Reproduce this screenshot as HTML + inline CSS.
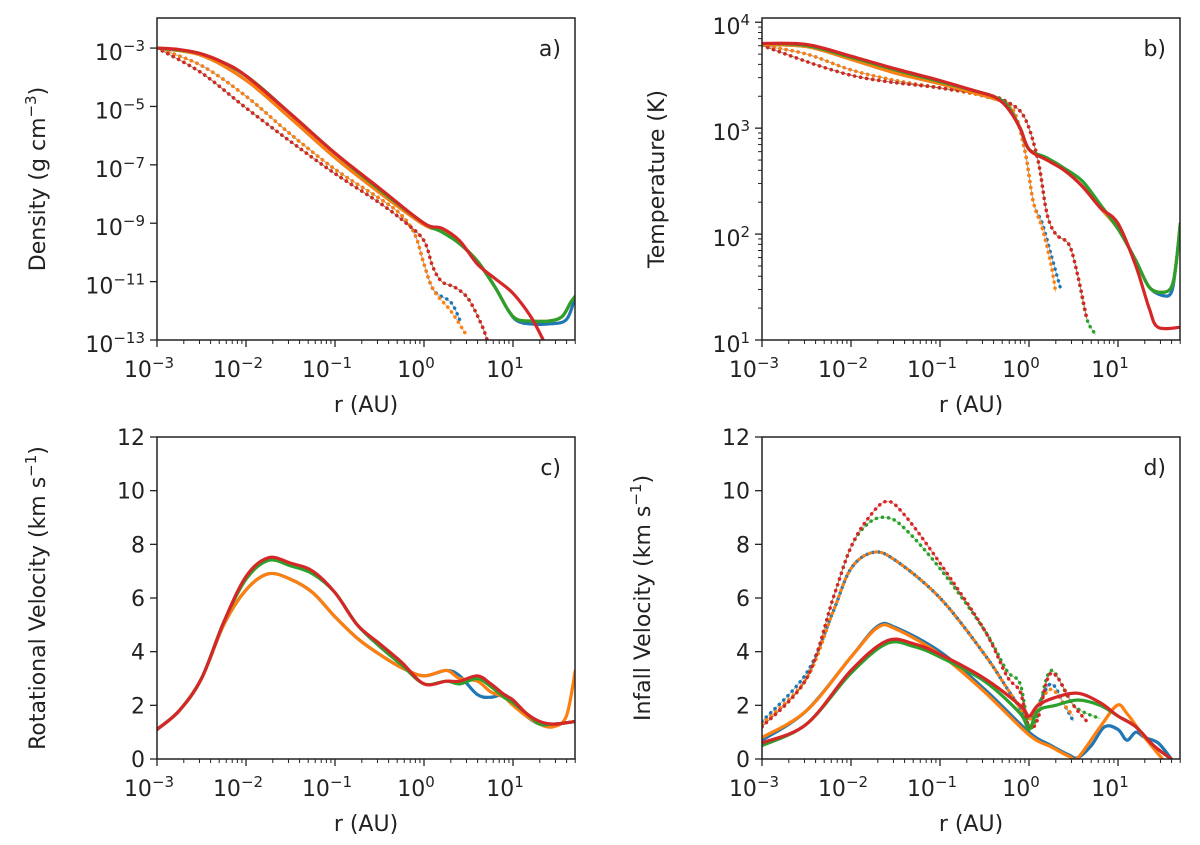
<!DOCTYPE html>
<html><head><meta charset="utf-8"><style>
body{margin:0;background:#fff}
svg{display:block;font-family:"DejaVu Sans","Liberation Sans",sans-serif}
</style></head><body>
<svg id="fig" width="1200" height="845" viewBox="0 0 1200 845"></svg>
<script>
const colors=['#1f77b4','#ff7f0e','#2ca02c','#d62728'];
// Panel a: density (log10 rho) vs log10 r
const aSolidX=[[-3,-2.5,-2,-1.5,-1,-0.5,0,0.2,0.4,0.6,0.8,0.95,1.05,1.2,1.4,1.6,1.7],[-3,-2.5,-2,-1.5,-1,-0.5,0,0.2,0.4,0.6,0.8,0.95,1.05,1.2,1.4,1.55,1.65,1.7],[-3,-2.5,-2,-1.5,-1,-0.5,0,0.2,0.4,0.6,0.8,0.95,1.05,1.2,1.4,1.55,1.65,1.7],[-3,-2.75,-2.5,-2.25,-2,-1.5,-1,-0.5,0,0.2,0.4,0.6,0.8,1.0,1.2,1.34]];
const aSolidY=[[-3,-3.25,-4.1,-5.4,-6.75,-7.95,-9.05,-9.25,-9.7,-10.3,-11.2,-12.0,-12.35,-12.45,-12.45,-12.3,-11.5],[-3,-3.25,-4.1,-5.4,-6.75,-7.95,-9.05,-9.25,-9.7,-10.3,-11.2,-12.0,-12.3,-12.35,-12.35,-12.2,-11.7,-11.5],[-3,-3.2,-3.95,-5.25,-6.6,-7.85,-9.0,-9.3,-9.7,-10.3,-11.2,-12.0,-12.3,-12.35,-12.35,-12.2,-11.7,-11.5],[-3,-3.05,-3.2,-3.5,-3.95,-5.25,-6.6,-7.8,-9.0,-9.17,-9.6,-10.4,-10.9,-11.4,-12.2,-13.0]];
const aDotX=[[-3,-2.5,-2,-1.5,-1,-0.5,-0.26,-0.1,0,0.11,0.3,0.4],[-3,-2.5,-2,-1.5,-1,-0.5,-0.26,-0.1,0,0.11,0.3,0.47],[-3,-2.5,-2,-1.5,-1,-0.5,-0.2,0,0.1,0.2,0.35,0.5,0.65,0.72],[-3,-2.5,-2,-1.5,-1,-0.5,-0.2,0,0.1,0.2,0.35,0.5,0.65,0.72]];
const aDotY=[[-3,-3.6,-4.65,-5.95,-7.15,-8.15,-8.7,-9.4,-10.4,-11.3,-11.7,-12.3],[-3,-3.6,-4.65,-5.95,-7.15,-8.15,-8.7,-9.4,-10.4,-11.3,-12.0,-12.8],[-3,-3.85,-5.05,-6.2,-7.3,-8.3,-9.0,-9.6,-10.5,-11.0,-11.2,-11.6,-12.5,-13.1],[-3,-3.85,-5.05,-6.2,-7.3,-8.3,-9.0,-9.6,-10.5,-11.0,-11.2,-11.6,-12.5,-13.1]];
// Panel b: temperature (log10 T)
const bSolidX=[[-3,-2.5,-2,-1.5,-1,-0.6,-0.4,-0.25,-0.1,0,0.2,0.4,0.6,0.8,1.0,1.2,1.35,1.5,1.6,1.65,1.7],[-3,-2.5,-2,-1.5,-1,-0.6,-0.4,-0.25,-0.1,0,0.2,0.4,0.6,0.8,1.0,1.2,1.35,1.5,1.6,1.65,1.7],[-3,-2.5,-2,-1.5,-1,-0.6,-0.4,-0.25,-0.1,0,0.2,0.4,0.6,0.8,1.0,1.2,1.35,1.5,1.6,1.65,1.7],[-3,-2.5,-2,-1.5,-1,-0.6,-0.4,-0.25,-0.1,0,0.2,0.4,0.6,0.8,1.0,1.2,1.35,1.45,1.7]];
const bSolidY=[[3.79,3.77,3.65,3.52,3.42,3.33,3.28,3.22,3.0,2.8,2.7,2.6,2.45,2.25,2.05,1.75,1.5,1.42,1.45,1.7,2.1],[3.79,3.77,3.65,3.52,3.42,3.33,3.28,3.22,3.0,2.8,2.7,2.6,2.45,2.25,2.05,1.75,1.5,1.45,1.5,1.7,2.1],[3.8,3.78,3.67,3.55,3.44,3.35,3.3,3.22,3.0,2.8,2.72,2.62,2.5,2.28,2.05,1.75,1.5,1.45,1.5,1.7,2.1],[3.8,3.79,3.68,3.56,3.45,3.35,3.3,3.2,3.0,2.8,2.7,2.6,2.45,2.25,2.1,1.7,1.3,1.12,1.12]];
const bDotX=[[-3,-2.5,-2,-1.5,-1,-0.5,-0.2,-0.05,0.05,0.15,0.25,0.35],[-3,-2.5,-2,-1.5,-1,-0.5,-0.2,-0.05,0.05,0.15,0.25,0.3],[-3,-2,-1,-0.5,-0.25,-0.05,0.1,0.2,0.3,0.45,0.55,0.65,0.75],[-3,-2,-1,-0.5,-0.25,-0.05,0.1,0.2,0.3,0.45,0.55,0.65]];
const bDotY=[[3.78,3.7,3.55,3.45,3.38,3.3,3.2,2.8,2.3,2.1,1.8,1.5],[3.78,3.7,3.55,3.45,3.38,3.3,3.2,2.8,2.3,2.05,1.7,1.45],[3.78,3.5,3.38,3.32,3.25,3.1,2.7,2.2,2.0,1.9,1.6,1.2,1.05],[3.78,3.5,3.38,3.32,3.25,3.1,2.7,2.2,2.0,1.9,1.6,1.2]];
// Panel c: rotational velocity (km/s)
const cX=[-3,-2.75,-2.5,-2.25,-2,-1.75,-1.5,-1.25,-1,-0.75,-0.5,-0.25,0,0.25,0.4,0.6,0.75,0.9,1.0,1.15,1.3,1.45,1.6,1.7];
const cY=[[1.1,1.8,3.0,5.0,6.3,6.9,6.7,6.2,5.3,4.5,3.9,3.4,3.1,3.3,3.1,2.4,2.3,2.4,2.1,1.6,1.3,1.3,1.35,1.4],[1.1,1.8,3.0,5.0,6.3,6.9,6.7,6.2,5.3,4.5,3.9,3.4,3.1,3.3,3.0,2.9,2.5,2.3,2.0,1.6,1.3,1.2,1.6,3.3],[1.1,1.8,3.0,5.1,6.7,7.4,7.2,6.9,6.2,5.0,4.2,3.5,2.8,2.9,2.8,3.0,2.7,2.3,2.1,1.7,1.3,1.3,1.35,1.4],[1.1,1.8,3.0,5.1,6.8,7.5,7.3,7.0,6.2,5.0,4.3,3.6,2.8,2.9,2.9,3.1,2.8,2.4,2.2,1.7,1.4,1.3,1.35,1.4]];
// Panel d: infall velocity (km/s)
const dSolidX=[[-3,-2.5,-2,-1.7,-1.5,-1,-0.5,0,0.25,0.45,0.55,0.7,0.85,1.0,1.1,1.2,1.3,1.45,1.6],[-3,-2.5,-2,-1.7,-1.5,-1,-0.5,0,0.25,0.45,0.55,0.8,0.99,1.1,1.3,1.5],[-3,-2.5,-2,-1.6,-1.3,-1,-0.5,-0.1,0,0.1,0.3,0.55,0.8,1.0,1.2,1.4,1.6],[-3,-2.5,-2,-1.6,-1.3,-1,-0.5,-0.1,0,0.1,0.3,0.55,0.8,1.0,1.2,1.4,1.6]];
const dSolidY=[[0.7,1.8,3.8,4.95,4.9,4.0,2.6,1.0,0.5,0.15,0.05,0.5,1.2,1.1,0.7,1.0,0.8,0.6,0.0],[0.8,1.8,3.8,4.9,4.85,3.9,2.5,0.9,0.45,0.1,0.05,1.2,2.0,1.7,0.8,0.0],[0.5,1.3,3.2,4.3,4.2,3.8,2.9,1.7,1.1,1.8,2.0,2.2,2.0,1.6,1.2,0.5,0.0],[0.6,1.3,3.3,4.4,4.3,3.9,3.0,2.0,1.6,2.0,2.3,2.45,2.1,1.6,1.2,0.5,0.0]];
const dDotX=[[-3,-2.5,-2.2,-2,-1.75,-1.5,-1,-0.5,-0.2,0,0.1,0.25,0.4,0.5],[-3,-2.5,-2.2,-2,-1.75,-1.5,-1,-0.5,-0.2,0,0.1,0.25,0.4,0.5],[-3,-2.5,-2.2,-2,-1.8,-1.6,-1.4,-1,-0.5,-0.25,-0.1,0,0.1,0.25,0.5,0.8],[-3,-2.5,-2.2,-2,-1.8,-1.6,-1.4,-1,-0.5,-0.25,-0.1,0,0.1,0.25,0.5,0.65]];
const dDotY=[[1.4,3.2,5.5,7.1,7.7,7.4,6.0,3.9,2.4,1.5,2.0,2.8,2.0,1.4],[1.3,3.0,5.5,7.1,7.7,7.4,6.0,3.9,2.4,1.5,2.0,2.6,2.0,1.6],[1.2,3.0,6.0,7.9,8.8,9.0,8.6,7.1,4.8,3.3,2.8,1.2,1.7,3.3,2.0,1.5],[1.2,3.0,6.0,7.9,9.0,9.6,9.1,7.3,4.8,3.1,2.5,1.2,1.5,3.2,2.0,1.4]];
const yTicksLog_a=[-3,-5,-7,-9,-11,-13];
const yTicksLog_b=[1,2,3,4];
const yTicksLin=[0,2,4,6,8,10,12];
const xTicks=[-3,-2,-1,0,1];

const NS='http://www.w3.org/2000/svg';
const svg=document.getElementById('fig');
function mk(tag,attrs,parent){const e=document.createElementNS(NS,tag);for(const k in attrs)e.setAttribute(k,attrs[k]);(parent||svg).appendChild(e);return e;}
function sup(t,base,exp){t.textContent='';const a=document.createElementNS(NS,'tspan');a.textContent=base;t.appendChild(a);const b=document.createElementNS(NS,'tspan');b.setAttribute('dy','-9');b.setAttribute('font-size','15');b.textContent=exp;t.appendChild(b);}
function smooth(pts){let d='M'+pts[0][0]+','+pts[0][1];for(let i=0;i<pts.length-1;i++){const p0=pts[Math.max(i-1,0)],p1=pts[i],p2=pts[i+1],p3=pts[Math.min(i+2,pts.length-1)];const c1x=p1[0]+(p2[0]-p0[0])/6,c1y=p1[1]+(p2[1]-p0[1])/6,c2x=p2[0]-(p3[0]-p1[0])/6,c2y=p2[1]-(p3[1]-p1[1])/6;d+=`C${c1x},${c1y} ${c2x},${c2y} ${p2[0]},${p2[1]}`;}return d;}

function panel(cfg){
  const g=mk('g',{});
  
  
  const L=cfg.L,T=cfg.T,W=418,H=322;
  const xs=v=>L+(v+3)*89;
  const ys=v=>T+H-(v-cfg.ymin)/(cfg.ymax-cfg.ymin)*H;
  const clip=mk('clipPath',{id:'clip-'+cfg.name},g);
  mk('rect',{x:L,y:T,width:W,height:H},clip);
  const lines=mk('g',{'clip-path':'url(#clip-'+cfg.name+')'},g);
  const draw=(X,Y,dotted)=>{
    for(let s=0;s<4;s++){
      const xx=Array.isArray(X[0])?X[s]:X;
      const pts=xx.map((v,i)=>[xs(v),ys(Y[s][i])]);
      const p=mk('path',{d:smooth(pts),fill:'none',stroke:colors[s],'stroke-width':dotted?2:3.2,'stroke-linecap':'round','stroke-dasharray':dotted?'0.1 6':'none'},lines);
      if(dotted){p.setAttribute('stroke-width','3.5');mk('path',{d:smooth(pts),fill:'none',stroke:colors[s],'stroke-width':0.8,opacity:0.6},lines);}
      
      
    }
  };
  if(cfg.dotX)draw(cfg.dotX,cfg.dotY,true);
  draw(cfg.solX,cfg.solY,false);
  const frame=mk('rect',{x:L,y:T,width:W,height:H,fill:'none',stroke:'#222','stroke-width':1.5},g);
  
  
  for(let dec=-3;dec<=1;dec++){
    mk('line',{x1:xs(dec),x2:xs(dec),y1:T+H,y2:T+H+7,stroke:'#222','stroke-width':1.3},g);
    for(let m=2;m<=9;m++){const v=dec+Math.log10(m);if(v>1.7)break;mk('line',{x1:xs(v),x2:xs(v),y1:T+H,y2:T+H+4,stroke:'#222','stroke-width':1},g);}
  }
  xTicks.forEach(v=>{const t=mk('text',{x:xs(v)-8,y:T+H+37,'font-size':22,'text-anchor':'middle',fill:'#222'},g);sup(t,'10',v<0?'−'+(-v):''+v);});
  const xl=mk('text',{x:L+W/2,y:T+H+72,'font-size':22,'text-anchor':'middle',fill:'#222'},g);xl.textContent='r (AU)';
  
  
  cfg.yticks.forEach(v=>{
    mk('line',{x1:L-7,x2:L,y1:ys(v),y2:ys(v),stroke:'#222','stroke-width':1.3},g);
    const t=mk('text',{x:L-12,y:ys(v)+8,'font-size':22,'text-anchor':'end',fill:'#222'},g);
    if(cfg.log){sup(t,'10',v<0?'−'+(-v):''+v);t.setAttribute('y',ys(v)+12);}else t.textContent=v;
    
    
  });
  if(cfg.minorLog){for(let dec=1;dec<4;dec++)for(let m=2;m<=9;m++){const v=dec+Math.log10(m);mk('line',{x1:L-4,x2:L,y1:ys(v),y2:ys(v),stroke:'#222','stroke-width':1},g);}}
  const yl=mk('text',{transform:`translate(${cfg.ylx},${T+H/2}) rotate(-90)`,'font-size':22,'text-anchor':'middle',fill:'#222'},g);
  yl.innerHTML=cfg.ytitle;
  
  
  const pl=mk('text',{x:L+W-14,y:T+38,'font-size':22,'text-anchor':'end',fill:'#222'},g);pl.textContent=cfg.label;
  
  
}
panel({name:'density-panel',L:157,T:18,ymin:-13,ymax:-1.97,log:true,yticks:yTicksLog_a,solX:aSolidX,solY:aSolidY,dotX:aDotX,dotY:aDotY,ylx:45,label:'a)',ytitle:'Density (g cm<tspan dy="-9" font-size="15">−3</tspan><tspan dy="9">)</tspan>'});
panel({name:'temperature-panel',L:762,T:18,ymin:1,ymax:4.04,log:true,minorLog:true,yticks:yTicksLog_b,solX:bSolidX,solY:bSolidY,dotX:bDotX,dotY:bDotY,ylx:664,label:'b)',ytitle:'Temperature (K)'});
panel({name:'rotational-velocity-panel',L:157,T:437,ymin:0,ymax:12,log:false,yticks:yTicksLin,solX:cX,solY:cY,ylx:45,label:'c)',ytitle:'Rotational Velocity (km s<tspan dy="-9" font-size="15">−1</tspan><tspan dy="9">)</tspan>'});
panel({name:'infall-velocity-panel',L:762,T:437,ymin:0,ymax:12,log:false,yticks:yTicksLin,solX:dSolidX,solY:dSolidY,dotX:dDotX,dotY:dDotY,ylx:650,label:'d)',ytitle:'Infall Velocity (km s<tspan dy="-9" font-size="15">−1</tspan><tspan dy="9">)</tspan>'});
</script>
</body></html>
